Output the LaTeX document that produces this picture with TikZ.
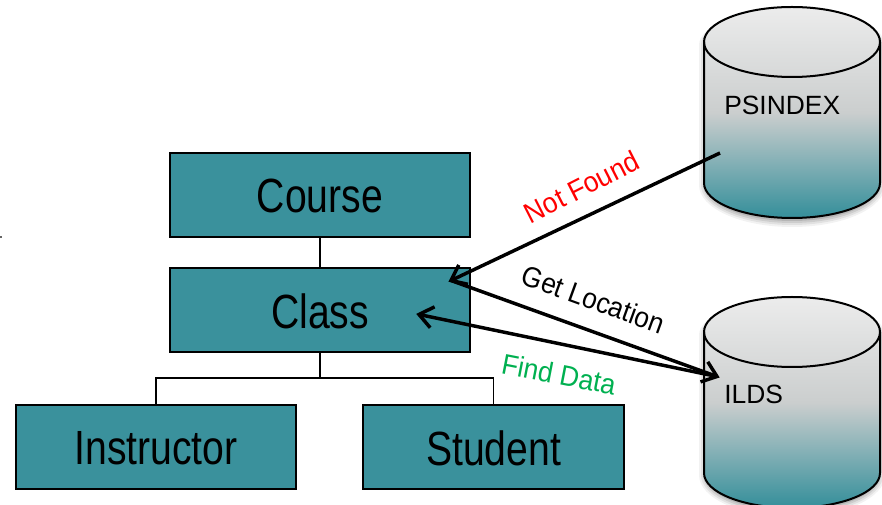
\documentclass[tikz,border=0pt]{standalone}
\usepackage{fontspec}
\setmainfont{Liberation Sans}
\usetikzlibrary{calc}
\definecolor{tealbox}{HTML}{3A919C}
\definecolor{topgrey}{HTML}{ECECEC}
\definecolor{midgrey}{HTML}{CBCECE}
\definecolor{findgreen}{HTML}{00B050}
\pgfdeclareverticalshading{cylshade}{100bp}{color(0bp)=(tealbox);color(26bp)=(tealbox);color(50bp)=(midgrey);color(75bp)=(topgrey);color(100bp)=(topgrey)}
\tikzset{
  box/.style={draw=black,line width=1.5pt,fill=tealbox,anchor=north west,inner sep=0pt,text=black},
  boxtext/.style={font=\fontsize{36}{40}\selectfont,xscale=.815,text=black},
  tree/.style={draw=black,line width=1.1pt},
  arrowline/.style={draw=black,line width=2.6pt},
  cyltext/.style={font=\fontsize{19.8}{22}\selectfont,text=black},
  edgetext/.style={font=\fontsize{21.5}{24}\selectfont},
}
\newcommand{\cylpath}[2]{(#1,#2+35) arc[start angle=180,end angle=360,x radius=88,y radius=35] -- (#1+176,#2+176) arc[start angle=0,end angle=180,x radius=88,y radius=35] -- cycle}
% open arrow from #1 to #2, barbs drawn at the tip
\newcommand{\openarrow}[2]{%
  \draw[arrowline] (#1) -- (#2);
  \draw[arrowline,line join=miter] ($(#2)!13pt!38:(#1)$) -- (#2) -- ($(#2)!13pt!-38:(#1)$);
}
\begin{document}
\begin{tikzpicture}[x=0.75pt,y=-0.75pt]
\useasboundingbox (0,0) rectangle (882,505);
\clip (0,0) rectangle (882,505);
% boxes
\node[box,minimum width=225pt,minimum height=63pt] (course) at (169,152) {};
\node[box,minimum width=225pt,minimum height=63pt] (class) at (169,267) {};
\node[box,minimum width=210pt,minimum height=63pt] (instr) at (15,404) {};
\node[box,minimum width=196pt,minimum height=63pt] (student) at (362,404) {};
\node[boxtext] (coursetext) at ([yshift=-1pt]course.center) {Course};
\node[boxtext] (classtext) at ([yshift=-1pt]class.center) {Class};
\node[boxtext] (instrtext) at ([yshift=-1pt]instr.center) {Instructor};
\node[boxtext] (studenttext) at ([yshift=-1pt]student.center) {Student};
% tree
\coordinate (junction) at (class.south |- 0,378);
\draw[tree] (course.south) -- (class.north);
\draw[tree] (class.south) -- (junction);
\draw[tree] (instr.north) |- (junction) -| (student.north);
% small mark at the left edge
\fill[black!60] (0,236) rectangle (1.5,238);
% cylinders
\foreach \cx/\cy in {704/7,704/297}{
  \foreach \d/\op in {7/.05,5/.07,3/.09,1/.11}{
    \fill[black,opacity=\op] (\cx+2-\d,\cy+38) arc[start angle=180,end angle=360,x radius=86+\d,y radius=35] -- (\cx+174+\d,\cy+178) arc[start angle=0,end angle=180,x radius=86+\d,y radius=35+\d] -- cycle;
  }
  \path[shading=cylshade,draw=black,line width=1.5pt] \cylpath{\cx}{\cy};
  \draw[black,line width=1.5pt] (\cx,\cy+35) arc[start angle=180,end angle=0,x radius=88,y radius=35];
}
\node[cyltext,anchor=west,inner sep=0pt] (psindex) at (724,105) {PSINDEX};
\node[cyltext,anchor=west,inner sep=0pt] (ilds) at (724,394) {ILDS};
% connectors
\coordinate (psend) at (720,153);
\coordinate (clsa) at (451,280.5);
\coordinate (ildsend) at (717,376.5);
\coordinate (clsb) at (419,314.5);
\openarrow{psend}{clsa}
\openarrow{clsa}{ildsend}
\openarrow{ildsend}{clsb}
% labels
\node[edgetext,text=red,rotate=27,xscale=.93] (notfound) at (581.5,187) {Not Found};
\node[edgetext,text=black,rotate=-20,xscale=.92] (getloc) at (593.5,299) {Get Location};
\node[edgetext,text=findgreen,rotate=-11,xscale=.93] (finddata) at (559,374) {Find Data};
\end{tikzpicture}
\end{document}
